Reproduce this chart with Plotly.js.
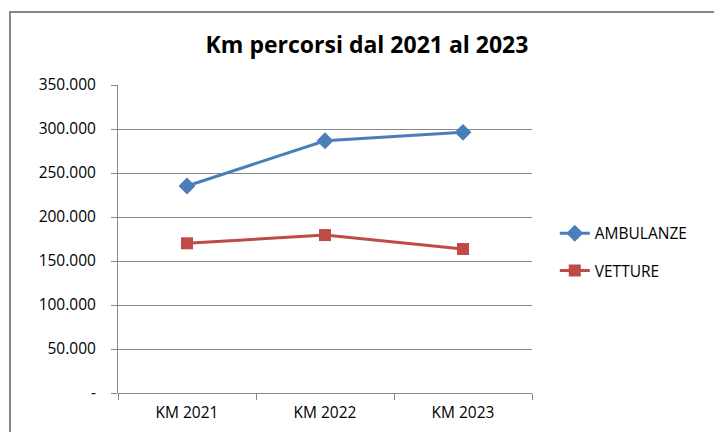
<!DOCTYPE html>
<html>
<head>
<meta charset="utf-8">
<script src="https://cdn.plot.ly/plotly-3.0.1.min.js"></script>
<style>
html,body{margin:0;padding:0;background:#fff;}
#chart{width:714px;height:432px;}
</style>
</head>
<body>
<div id="chart"></div>
<script>
const categories = ["KM 2021", "KM 2022", "KM 2023"];
const ambulanze = [235200, 286700, 296200];
const vetture = [170100, 179500, 163600];
const yTickVals = [0, 50000, 100000, 150000, 200000, 250000, 300000, 350000];
const yTickText = ["-", "50.000", "100.000", "150.000", "200.000", "250.000", "300.000", "350.000"];

const font = "Open Sans, Noto Sans, sans-serif";

const traces = [
  {
    x: categories, y: ambulanze, name: "AMBULANZE", type: "scatter", mode: "lines+markers",
    legendgroup: "a",
    line: {color: "#4A7EBB", width: 3},
    marker: {symbol: "diamond", size: 13, color: "#4A7EBB"}
  },
  {
    x: categories, y: vetture, name: "VETTURE", type: "scatter", mode: "lines+markers",
    legendgroup: "b",
    line: {color: "#BE4B48", width: 3},
    marker: {symbol: "square", size: 12, color: "#BE4B48"}
  }
];

const layout = {
  width: 714, height: 432,
  margin: {l: 118, r: 182, t: 85, b: 39},
  paper_bgcolor: "#fff", plot_bgcolor: "#fff",
  showlegend: true,
  title: {text: "<b>Km percorsi dal 2021 al 2023</b>", x: 0.514, xanchor: "center", y: 0.895, yanchor: "middle",
          font: {family: font, size: 23, color: "#000"}},
  xaxis: {
    type: "category", range: [-0.5, 2.5], tickson: "boundaries",
    ticks: "outside", ticklen: 6, tickcolor: "#868686",
    ticklabelstandoff: 8,
    showgrid: false, showline: false, zeroline: false,
    tickfont: {family: font, size: 15.5, color: "#000"}
  },
  yaxis: {
    range: [0, 350000], tickvals: yTickVals, ticktext: yTickText,
    ticks: "outside", ticklen: 6, tickcolor: "#868686",
    ticklabelstandoff: 12,
    showgrid: true, gridcolor: "#868686", gridwidth: 1,
    showline: true, linecolor: "#868686", linewidth: 1,
    zeroline: true, zerolinecolor: "#868686", zerolinewidth: 1,
    tickfont: {family: font, size: 15.5, color: "#000"}
  },
  legend: {
    x: 1.055, y: 0.457, xanchor: "left", yanchor: "middle",
    traceorder: "grouped", tracegroupgap: 14,
    font: {family: font, size: 15.5, color: "#000"},
    bgcolor: "rgba(0,0,0,0)"
  },
  shapes: [
    {type: "rect", xref: "paper", yref: "paper", x0: -0.2609, x1: 1.6, y0: -0.3, y1: 1.237,
     line: {color: "#868686", width: 2}, fillcolor: "rgba(0,0,0,0)"}
  ]
};

Plotly.newPlot("chart", traces, layout, {displayModeBar: false, staticPlot: true});
</script>
</body>
</html>
